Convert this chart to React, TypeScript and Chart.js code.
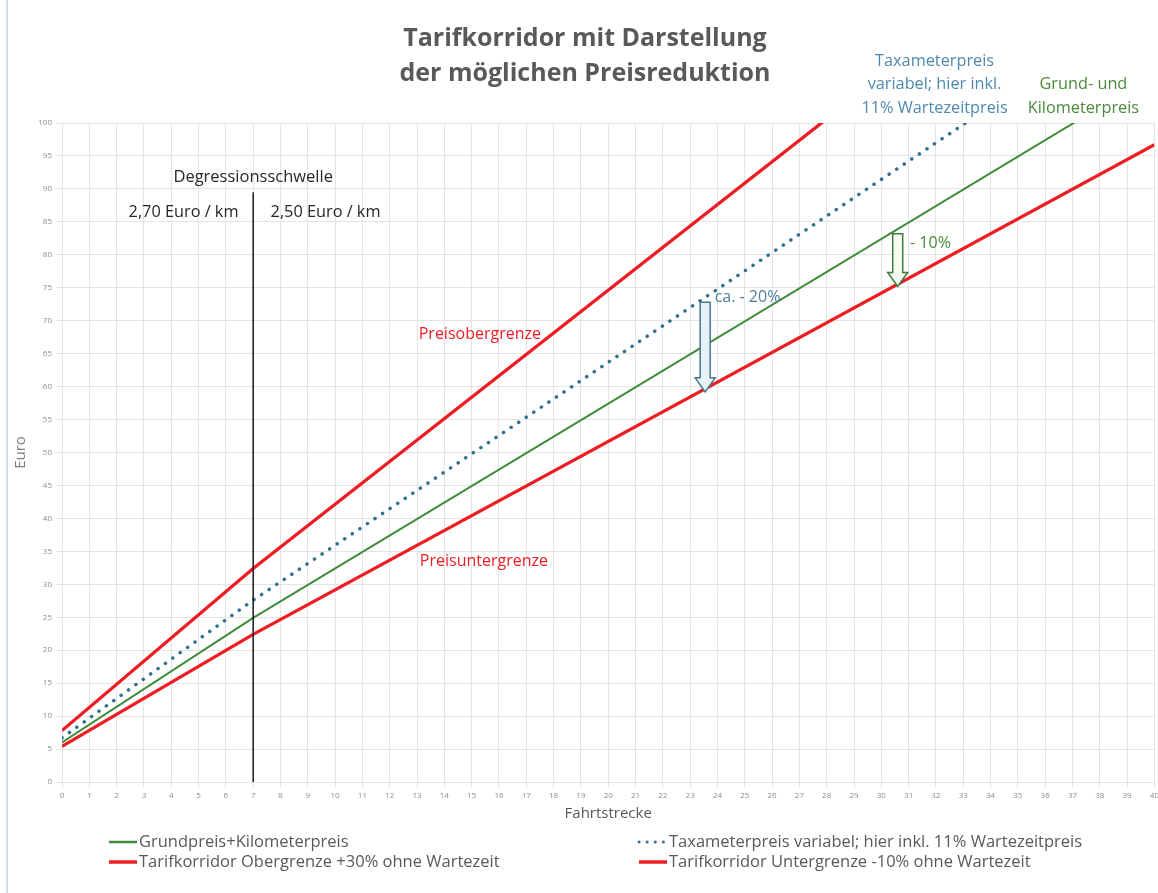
import React, { useEffect, useRef } from 'react';
import { Chart, registerables } from 'chart.js';

Chart.register(...registerables);

// ---- data ----
const distanceKm = [0, 7, 40];
const grundpreis = [6.0, 24.9, 107.4];
const taxameter = [6.7, 27.6, 119.2];
const obergrenze = [7.8, 32.4, 139.6];
const untergrenze = [5.4, 22.4, 96.7];

const titleLines = ['Tarifkorridor mit Darstellung', 'der möglichen Preisreduktion'];
const seriesLabels = [
  'Grundpreis+Kilometerpreis',
  'Taxameterpreis variabel; hier inkl. 11% Wartezeitpreis',
  'Tarifkorridor Obergrenze +30% ohne Wartezeit',
  'Tarifkorridor Untergrenze -10% ohne Wartezeit',
];

const thresholdKm = 7;
const thresholdTop = 89.5;
const arrow20 = { x: 23.55, from: 72.8, to: 59.2 };
const arrow10 = { x: 30.6, from: 83.2, to: 75.2 };

const FONT = '"Open Sans", Lato, sans-serif';
const GREEN = '#3f8c3a';
const RED = '#ee1d23';
const DOT = '#31708f';

type Note = { text: string[]; x: number; y: number; color: string; size: number };
const notes: Note[] = [
  { text: ['Degressionsschwelle'], x: 7.0, y: 91.7, color: '#262626', size: 16.5 },
  { text: ['2,70 Euro / km'], x: 4.45, y: 86.4, color: '#262626', size: 16.3 },
  { text: ['2,50 Euro / km'], x: 9.65, y: 86.4, color: '#262626', size: 16.3 },
  { text: ['Preisobergrenze'], x: 15.3, y: 67.9, color: RED, size: 16 },
  { text: ['Preisuntergrenze'], x: 15.45, y: 33.5, color: RED, size: 16 },
  { text: ['ca. - 20%'], x: 25.1, y: 73.6, color: '#4f7f9f', size: 16 },
  { text: ['- 10%'], x: 31.8, y: 81.8, color: '#4a8a3a', size: 16 },
  { text: ['Taxameterpreis', 'variabel; hier inkl.', '11% Wartezeitpreis'], x: 31.95, y: 109.4, color: '#4f89ad', size: 16.3 },
  { text: ['Grund- und', 'Kilometerpreis'], x: 37.4, y: 105.8, color: '#4a8a3a', size: 16.3 },
];

function pts(ys: number[]) {
  return distanceKm.map((x, i) => ({ x, y: ys[i] }));
}

function drawArrow(ctx: CanvasRenderingContext2D, x: number, y1: number, y2: number, stroke: string, fill: string) {
  const sw = 5;
  const hw = 10;
  const hl = 14;
  ctx.save();
  ctx.beginPath();
  ctx.moveTo(x - sw, y1);
  ctx.lineTo(x + sw, y1);
  ctx.lineTo(x + sw, y2 - hl);
  ctx.lineTo(x + hw, y2 - hl);
  ctx.lineTo(x, y2);
  ctx.lineTo(x - hw, y2 - hl);
  ctx.lineTo(x - sw, y2 - hl);
  ctx.closePath();
  ctx.fillStyle = fill;
  ctx.fill();
  ctx.strokeStyle = stroke;
  ctx.lineWidth = 1.5;
  ctx.stroke();
  ctx.restore();
}

const overlay = {
  id: 'overlay',
  afterDatasetsDraw(chart: any) {
    const { ctx, scales } = chart;
    const xs = scales.x;
    const ys = scales.y;
    ctx.save();
    ctx.strokeStyle = '#1a1a1a';
    ctx.lineWidth = 1.5;
    ctx.beginPath();
    ctx.moveTo(xs.getPixelForValue(thresholdKm), ys.getPixelForValue(thresholdTop));
    ctx.lineTo(xs.getPixelForValue(thresholdKm), ys.getPixelForValue(0));
    ctx.stroke();
    drawArrow(ctx, xs.getPixelForValue(arrow20.x), ys.getPixelForValue(arrow20.from), ys.getPixelForValue(arrow20.to), '#4a7390', '#e6f4f8');
    drawArrow(ctx, xs.getPixelForValue(arrow10.x), ys.getPixelForValue(arrow10.from), ys.getPixelForValue(arrow10.to), '#3d7a3d', '#f6fbf2');
    ctx.textAlign = 'center';
    ctx.textBaseline = 'middle';
    for (const n of notes) {
      ctx.font = `${n.size}px ${FONT}`;
      ctx.fillStyle = n.color;
      const px = xs.getPixelForValue(n.x);
      const py = ys.getPixelForValue(n.y);
      n.text.forEach((t, i) => ctx.fillText(t, px, py + i * 23.5));
    }
    ctx.restore();
  },
  afterDraw(chart: any) {
    const { ctx, chartArea } = chart;
    ctx.save();
    ctx.strokeStyle = '#c3d1db';
    ctx.lineWidth = 1.5;
    ctx.beginPath();
    ctx.moveTo(7, 0);
    ctx.lineTo(7, 893);
    ctx.stroke();
    const cols = [107, 637];
    const rows = [chartArea.bottom + 60, chartArea.bottom + 80];
    const styles = [
      { color: GREEN, width: 2.5, dash: [] as number[], cap: 'butt' },
      { color: DOT, width: 3, dash: [0.1, 8], cap: 'round' },
      { color: RED, width: 3.5, dash: [] as number[], cap: 'butt' },
      { color: RED, width: 3.5, dash: [] as number[], cap: 'butt' },
    ];
    ctx.font = `16.5px ${FONT}`;
    ctx.textBaseline = 'middle';
    ctx.textAlign = 'left';
    [0, 1, 2, 3].forEach((idx, k) => {
      const cx = cols[k % 2];
      const cy = rows[Math.floor(k / 2)];
      const s = styles[idx];
      ctx.strokeStyle = s.color;
      ctx.lineWidth = s.width;
      ctx.lineCap = s.cap as CanvasLineCap;
      ctx.setLineDash(s.dash);
      ctx.beginPath();
      ctx.moveTo(cx + 2, cy);
      ctx.lineTo(cx + 30, cy);
      ctx.stroke();
      ctx.setLineDash([]);
      ctx.fillStyle = '#595959';
      ctx.fillText(seriesLabels[idx], cx + 32, cy);
    });
    ctx.restore();
  },
};

export default function App() {
  const ref = useRef<HTMLCanvasElement>(null);
  useEffect(() => {
    const chart = new Chart(ref.current!, {
      type: 'line',
      data: {
        datasets: [
          { label: seriesLabels[0], data: pts(grundpreis), borderColor: GREEN, borderWidth: 2, pointRadius: 0, tension: 0, clip: 0 },
          { label: seriesLabels[1], data: pts(taxameter), borderColor: DOT, borderWidth: 3.5, borderDash: [0.1, 9], borderCapStyle: 'round', pointRadius: 0, tension: 0, clip: 0 },
          { label: seriesLabels[2], data: pts(obergrenze), borderColor: RED, borderWidth: 3.3, pointRadius: 0, tension: 0, clip: 0 },
          { label: seriesLabels[3], data: pts(untergrenze), borderColor: RED, borderWidth: 3.3, pointRadius: 0, tension: 0, clip: 0 },
        ],
      } as any,
      options: {
        animation: false,
        responsive: false,
        maintainAspectRatio: false,
        layout: { padding: { left: 8, right: 0, top: 0, bottom: 70 } },
        plugins: {
          legend: { display: false },
          tooltip: { enabled: false },
          title: {
            display: true,
            text: titleLines,
            color: '#595959',
            font: { family: FONT, size: 25, weight: 'bold', lineHeight: 1.4 },
            padding: { top: 21, bottom: 32 },
          },
        },
        scales: {
          x: {
            type: 'linear',
            min: 0,
            max: 40,
            ticks: { stepSize: 1, autoSkip: false, maxRotation: 0, color: '#8c8c8c', font: { family: FONT, size: 8 } },
            grid: { color: '#e4e4e4', tickLength: 6 },
            border: { color: '#e4e4e4' },
            title: { display: true, text: 'Fahrtstrecke', color: '#595959', font: { family: FONT, size: 15 }, padding: 0 },
            afterFit(s: any) { s.height = 41; },
          },
          y: {
            min: 0,
            max: 100,
            ticks: { stepSize: 5, color: '#8c8c8c', font: { family: FONT, size: 8 }, padding: 4 },
            grid: { color: '#e4e4e4', tickLength: 6 },
            border: { color: '#e4e4e4' },
            title: { display: true, text: 'Euro', color: '#7f7f7f', font: { family: FONT, size: 15 }, padding: { top: 4, bottom: 0 } },
            afterFit(s: any) { s.width = 54; },
          },
        },
      } as any,
      plugins: [overlay],
    });
    return () => chart.destroy();
  }, []);
  return (
    <div style={{ position: 'fixed', left: 0, top: 0, width: 1158, height: 893, overflow: 'hidden', background: '#ffffff' }}>
      <canvas ref={ref} width={1162} height={893} style={{ display: 'block', width: 1162, height: 893 }} />
    </div>
  );
}
